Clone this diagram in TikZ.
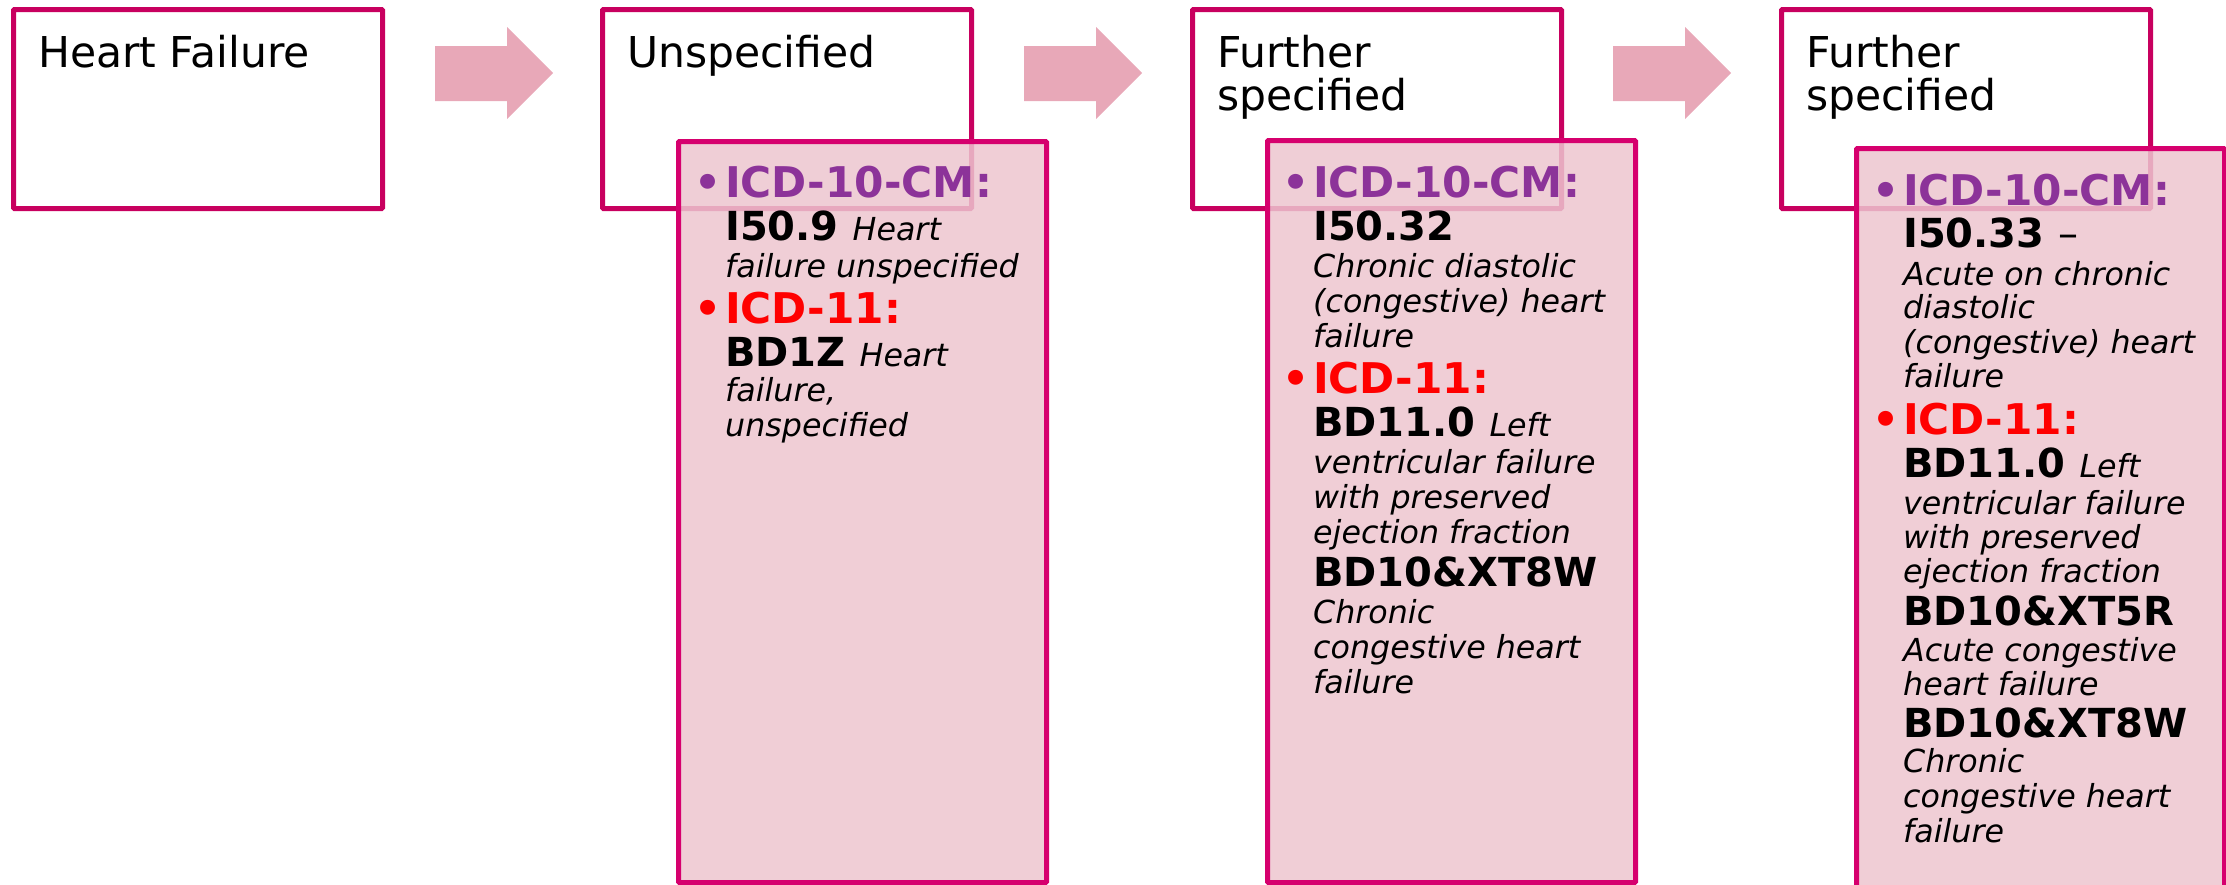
\documentclass[tikz,border=0pt]{standalone}
\usepackage{fontspec}
\setmainfont{DejaVu Sans}[BoldFont={DejaVu Sans Bold},ItalicFont={DejaVu Sans Oblique},BoldItalicFont={DejaVu Sans Bold Oblique}]

\definecolor{boxline}{RGB}{200,0,95}
\definecolor{detailline}{RGB}{214,0,110}
\definecolor{detailfill}{RGB}{237,198,207}
\definecolor{stepfill}{RGB}{232,168,184}
\definecolor{icdten}{RGB}{140,51,153}
\definecolor{icdeleven}{RGB}{255,0,0}

% font sizes (1pt = 1 unit of the drawing)
\newcommand\titlesz{\fontsize{42.5}{43}\selectfont}
\newcommand\headsz{\fontsize{42.3}{43}\selectfont}
\newcommand\codesz{\fontsize{40}{43}\selectfont}
\newcommand\descsz{\fontsize{31.7}{35}\selectfont}

% a line of a stacked list, #1pt below the previous baseline
\newcommand\Ln[2]{\baselineskip=#1pt\relax\hbox{#2}}
\newcommand\Hd[2]{{\color{#1}\bfseries\headsz\llap{•\kern4pt}#2}}
\newcommand\Cd[1]{{\bfseries\codesz #1}}
\newcommand\Ds[1]{{\itshape\descsz #1}}
\newcommand\Stack[1]{\vtop{\lineskiplimit=-1000pt\lineskip=0pt #1}}

\tikzset{
  titlebox/.style={draw=boxline, line width=5pt, fill=white, rounded corners=1pt,
    minimum width=369pt, minimum height=199pt, anchor=north west, inner sep=0pt},
  detailbox/.style={draw=detailline, line width=5pt, fill=detailfill, fill opacity=0.85,
    draw opacity=1, rounded corners=1pt, minimum width=368pt, anchor=north west, inner sep=0pt},
  linetext/.style={anchor=base west, inner sep=0pt, text=black},
}

\begin{document}
\begin{tikzpicture}[x=1pt,y=-1pt]
\useasboundingbox (0,0) rectangle (2226,884);
\clip (0,0) rectangle (2226,884);

% stage boxes
\node[titlebox] (t1) at (11,7) {};
\node[titlebox] (t2) at (600,7) {};
\node[titlebox] (t3) at (1190,7) {};
\node[titlebox] (t4) at (1779,7) {};

\node[linetext] (t1txt) at (38,67) {\titlesz Heart Failure};
\node[linetext] (t2txt) at (627,67) {\titlesz Unspecified};
\node[linetext] (t3txt) at (1217,67) {\Stack{\titlesz\Ln{0}{Further}\Ln{43}{specified}}};
\node[linetext] (t4txt) at (1806,67) {\Stack{\titlesz\Ln{0}{Further}\Ln{43}{specified}}};

% block arrows between the stages
\foreach \dx in {0,589,1178}{
  \fill[stepfill,shift={(\dx,0)}] (435,46) -- (507,46) -- (507,27) -- (553,73)
    -- (507,119) -- (507,101) -- (435,101) -- cycle;
}

% code panels
\node[detailbox, minimum height=741pt] (d2) at (676,139) {};
\node[detailbox, minimum height=742pt] (d3) at (1265,138) {};
\node[detailbox, minimum height=800pt] (d4) at (1854,146) {};

\node[linetext] (d2txt) at (725,197) {\Stack{%
  \Ln{0}{\Hd{icdten}{ICD-10-CM:}}%
  \Ln{43}{\Cd{I50.9 }\Ds{Heart}}%
  \Ln{37}{\Ds{failure unspecified}}%
  \Ln{46}{\Hd{icdeleven}{ICD-11:}}%
  \Ln{43}{\Cd{BD1Z }\Ds{Heart}}%
  \Ln{35}{\Ds{failure,}}%
  \Ln{35}{\Ds{unspecified}}%
}};

\node[linetext] (d3txt) at (1313,197) {\Stack{%
  \Ln{0}{\Hd{icdten}{ICD-10-CM:}}%
  \Ln{43}{\Cd{I50.32}}%
  \Ln{37}{\Ds{Chronic diastolic}}%
  \Ln{35}{\Ds{(congestive) heart}}%
  \Ln{35}{\Ds{failure}}%
  \Ln{46}{\Hd{icdeleven}{ICD-11:}}%
  \Ln{43}{\Cd{BD11.0 }\Ds{Left}}%
  \Ln{37}{\Ds{ventricular failure}}%
  \Ln{35}{\Ds{with preserved}}%
  \Ln{35}{\Ds{ejection fraction}}%
  \Ln{43}{\Cd{BD10\&XT8W}}%
  \Ln{37}{\Ds{Chronic}}%
  \Ln{35}{\Ds{congestive heart}}%
  \Ln{35}{\Ds{failure}}%
}};

\node[linetext] (d4txt) at (1903,205) {\Stack{%
  \Ln{0}{\Hd{icdten}{ICD-10-CM:}}%
  \Ln{42.5}{\Cd{I50.33 }{\codesz –}}%
  \Ln{37.5}{\Ds{Acute on chronic}}%
  \Ln{33.5}{\Ds{diastolic}}%
  \Ln{35}{\Ds{(congestive) heart}}%
  \Ln{34}{\Ds{failure}}%
  \Ln{46.5}{\Hd{icdeleven}{ICD-11:}}%
  \Ln{43.5}{\Cd{BD11.0 }\Ds{Left}}%
  \Ln{36.5}{\Ds{ventricular failure}}%
  \Ln{34.5}{\Ds{with preserved}}%
  \Ln{34}{\Ds{ejection fraction}}%
  \Ln{42.5}{\Cd{BD10\&XT5R}}%
  \Ln{36}{\Ds{Acute congestive}}%
  \Ln{34}{\Ds{heart failure}}%
  \Ln{42.5}{\Cd{BD10\&XT8W}}%
  \Ln{35}{\Ds{Chronic}}%
  \Ln{35}{\Ds{congestive heart}}%
  \Ln{35}{\Ds{failure}}%
}};
\end{tikzpicture}
\end{document}
